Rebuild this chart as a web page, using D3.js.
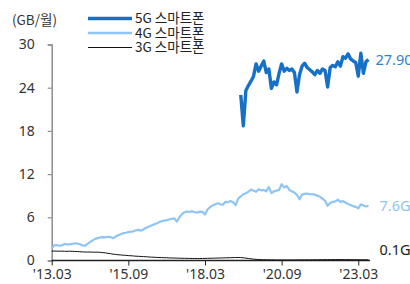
<!DOCTYPE html>
<html>
<head>
<meta charset="utf-8">
<script src="https://cdn.jsdelivr.net/npm/d3@7"></script>
<style>
  body { margin: 0; background: #fff; }
  svg { font-family: "Noto Sans CJK KR", "Noto Sans", sans-serif; }
</style>
</head>
<body>
<div id="chart"></div>
<script>
// monthly, 2013.03 .. 2023.07
var firstMonth = [2013, 3];
var monthCount = 125;
var tickMonths = ["2013.03", "2015.09", "2018.03", "2020.09", "2023.03"];
var yTicks = [0, 6, 12, 18, 24, 30];
var seriesNames = ["5G 스마트폰", "4G 스마트폰", "3G 스마트폰"];
var endLabels = ["27.90", "7.6G", "0.1G"];

// 5G starts 2019.05
var fiveGStart = "2019.05";
var fiveG = [
  23.0, 18.7, 23.6, 24.3, 24.9, 25.6, 27.3, 26.3, 27.0, 27.7,
  26.1, 26.6, 23.9, 24.8, 24.4, 26.0, 27.3, 26.3, 26.7, 26.4,
  26.6, 26.1, 23.4, 25.8, 27.0, 27.4, 26.8, 26.5, 26.2, 25.8,
  26.4, 26.0, 26.6, 26.4, 24.1, 26.8, 27.1, 26.9, 27.6, 27.0,
  28.3, 28.1, 28.7, 28.0, 27.7, 27.5, 25.6, 28.8, 26.0, 27.6,
  27.9
];

var fourG = [
  1.70, 2.10, 2.15, 2.05, 2.10, 2.30, 2.25, 2.25, 2.30, 2.40,
  2.35, 2.25, 2.10, 2.05, 2.30, 2.55, 2.80, 3.00, 3.10, 3.20,
  3.25, 3.20, 3.30, 3.25, 3.10, 3.30, 3.50, 3.65, 3.80, 3.85,
  3.95, 4.00, 4.05, 4.20, 4.25, 4.15, 4.35, 4.55, 4.70, 4.85,
  5.00, 5.15, 5.30, 5.45, 5.55, 5.60, 5.70, 5.80, 5.85, 5.40,
  6.00, 6.45, 6.70, 6.80, 6.75, 6.85, 6.70, 6.65, 6.80, 6.75,
  6.40, 7.10, 7.40, 7.65, 7.80, 7.95, 7.80, 7.75, 8.15, 8.10,
  8.25, 8.10, 7.70, 8.60, 8.90, 9.20, 9.35, 9.55, 9.85, 9.70,
  9.55, 9.90, 9.75, 9.80, 9.60, 10.2, 9.35, 9.60, 9.70, 9.80,
  10.6, 10.15, 10.35, 9.80, 9.60, 9.45, 9.10, 8.50, 9.15, 9.25,
  9.30, 9.20, 9.20, 9.15, 9.00, 8.85, 8.60, 8.30, 7.60, 8.00,
  8.15, 8.20, 8.45, 8.15, 8.25, 8.05, 7.85, 7.70, 7.55, 7.45,
  7.25, 7.80, 7.65, 7.50, 7.60
];

var threeG = [
  1.30, 1.31, 1.30, 1.29, 1.30, 1.28, 1.27, 1.29, 1.28, 1.26,
  1.25, 1.22, 1.20, 1.18, 1.17, 1.18, 1.16, 1.15, 1.16, 1.13,
  1.10, 1.06, 1.00, 0.95, 0.88, 0.84, 0.80, 0.77, 0.74, 0.72,
  0.68, 0.66, 0.63, 0.60, 0.58, 0.56, 0.54, 0.52, 0.49, 0.47,
  0.45, 0.43, 0.42, 0.40, 0.39, 0.38, 0.36, 0.35, 0.34, 0.33,
  0.32, 0.31, 0.30, 0.30, 0.29, 0.28, 0.28, 0.27, 0.27, 0.28,
  0.29, 0.30, 0.31, 0.32, 0.33, 0.34, 0.35, 0.36, 0.37, 0.38,
  0.39, 0.40, 0.41, 0.42, 0.41, 0.38, 0.33, 0.28, 0.23, 0.19,
  0.16, 0.14, 0.12, 0.11, 0.10, 0.10, 0.09, 0.09, 0.08, 0.08,
  0.08, 0.08, 0.08, 0.08, 0.08, 0.08, 0.08, 0.09, 0.09, 0.09,
  0.09, 0.09, 0.10, 0.10, 0.10, 0.11, 0.11, 0.12, 0.12, 0.12,
  0.13, 0.13, 0.13, 0.13, 0.12, 0.12, 0.12, 0.12, 0.11, 0.11,
  0.11, 0.10, 0.10, 0.10, 0.10
];

var months = [];
for (var k = 0; k < monthCount; k++) {
  var mm = firstMonth[1] - 1 + k;
  var yy = firstMonth[0] + Math.floor(mm / 12);
  months.push(yy + "." + String(mm % 12 + 1).padStart(2, "0"));
}

const WIDTH = 410;
const HEIGHT = 284;
const LEFT = 51.7;
const RIGHT = 368.5;
const TOP = 44.5;
const BOTTOM = 260.5;

var COLORS = ["#1670c6", "#8fc4f6", "#111111"];
var WIDTHS = [3.4, 2.2, 1];
var LABEL_COLORS = ["#2f7fcf", "#8fc4f6", "#222222"];
var NUM_FONT = "'Noto Sans', sans-serif";

var svg = d3.select("#chart").append("svg")
  .attr("width", WIDTH)
  .attr("height", HEIGHT);

var xScale = d3.scalePoint()
  .domain(months)
  .range([LEFT, RIGHT]);

var yScale = d3.scaleLinear()
  .domain([0, 30])
  .range([BOTTOM, TOP]);

// y axis
var yAxis = d3.axisLeft(yScale)
  .tickValues(yTicks)
  .tickSize(4)
  .tickPadding(13);

var gy = svg.append("g")
  .attr("transform", "translate(" + LEFT + ",0)")
  .call(yAxis);
gy.select(".domain").attr("stroke", "#8c8c8c").attr("stroke-width", 1.5);
gy.selectAll(".tick line").attr("stroke", "#8c8c8c").attr("stroke-width", 1.2);
gy.selectAll("text").attr("font-size", 14).attr("fill", "#333")
  .attr("font-family", NUM_FONT);

// x axis
var xAxis = d3.axisBottom(xScale)
  .tickValues(tickMonths)
  .tickSize(5)
  .tickSizeOuter(0)
  .tickPadding(4)
  .tickFormat(function(d){ return "'" + d.slice(2); });

var gx = svg.append("g")
  .attr("transform", "translate(0," + BOTTOM + ")")
  .call(xAxis);
gx.select(".domain").attr("stroke", "#222").attr("stroke-width", 1.3)
  .attr("d", "M" + LEFT + ",0H370");
gx.selectAll(".tick line").attr("stroke", "#222");
gx.selectAll("text").attr("font-size", 14).attr("fill", "#333")
  .attr("font-family", NUM_FONT);

// series
var startIdx = months.indexOf(fiveGStart);
var rows = [
  fiveG.map(function(v, i){ return { m: months[startIdx + i], v: v }; }),
  fourG.map(function(v, i){ return { m: months[i], v: v }; }),
  threeG.map(function(v, i){ return { m: months[i], v: v }; })
];

var line = d3.line()
  .x(function(d){ return xScale(d.m); })
  .y(function(d){ return yScale(d.v); });

// draw 3G first, 5G on top
[2, 1, 0].forEach(function(s){
  svg.append("path")
    .attr("d", line(rows[s]))
    .attr("fill", "none")
    .attr("stroke", COLORS[s])
    .attr("stroke-width", WIDTHS[s])
    .attr("stroke-linejoin", "round");
});

// end labels (the 27.90 runs off the right edge, as in the original)
rows.forEach(function(r, s){
  var last = r[r.length - 1];
  var ly = s == 2 ? yScale(last.v) - 10 : yScale(last.v);
  svg.append("text")
    .attr("x", xScale(last.m) + (s == 0 ? 7 : 11))
    .attr("y", ly)
    .attr("dy", "0.35em")
    .attr("font-size", 14.5)
    .attr("font-family", NUM_FONT)
    .attr("fill", LABEL_COLORS[s])
    .text(endLabels[s]);
});

// unit
svg.append("text")
  .attr("x", 12)
  .attr("y", 20)
  .attr("dy", "0.35em")
  .attr("font-size", 13.5)
  .attr("fill", "#333")
  .text("(GB/월)");

// legend
var legend = svg.append("g");
var legendText = legend.append("text")
  .attr("font-size", 13.5)
  .attr("fill", "#222");
seriesNames.forEach(function(name, s){
  var ly = 18.5 + s * 14.5;
  legend.append("line")
    .attr("x1", 88).attr("x2", 132)
    .attr("y1", ly).attr("y2", ly)
    .attr("stroke", COLORS[s])
    .attr("stroke-width", s == 0 ? 3.4 : (s == 1 ? 2.4 : 1.2));
  legendText.append("tspan")
    .attr("x", 135)
    .attr("y", ly + 4.8)
    .text(name);
});
</script>
</body>
</html>
